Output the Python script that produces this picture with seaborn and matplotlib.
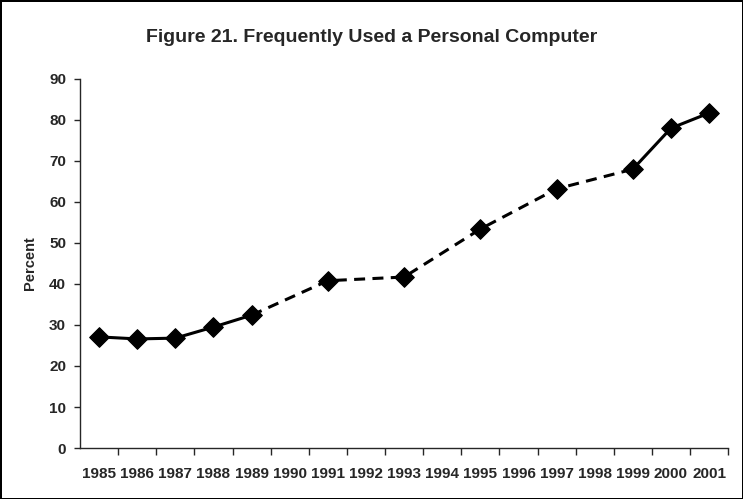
import numpy as np
import pandas as pd
import seaborn as sns
import matplotlib.pyplot as plt
from matplotlib.ticker import FixedLocator

# dati
anni_asse = list(range(1985, 2002))
anni = [1985, 1986, 1987, 1988, 1989, 1991, 1993, 1995, 1997, 1999, 2000, 2001]
percento = [27.1, 26.6, 26.8, 29.5, 32.4, 40.8, 41.7, 53.4, 63.2, 68.0, 78.0, 81.7]

sns.set_style("ticks")
plt.rcParams['font.family'] = ['Liberation Sans', 'DejaVu Sans']

data = pd.DataFrame({"anno": anni, "pct": percento})

# tratti continui dove gli anni sono consecutivi, tratteggiati dove mancano anni
tratto1 = data[data["anno"] <= 1989]
tratto2 = data[(data["anno"] >= 1989) & (data["anno"] <= 1999)]
tratto3 = data[data["anno"] >= 1999]

fig = plt.figure(figsize=(7.43, 4.99), dpi=100, edgecolor="black", linewidth=2)
ax = fig.add_axes([0.1077, 0.1022, 0.8723, 0.7395])

sns.lineplot(x="anno", y="pct", data=tratto1, color="black", linewidth=2.2, ax=ax)
sns.lineplot(x="anno", y="pct", data=tratto2, color="black", linewidth=2.2, ax=ax)
ax.lines[-1].set_dashes((3.6, 2.4))
sns.lineplot(x="anno", y="pct", data=tratto3, color="black", linewidth=2.2, ax=ax)
sns.scatterplot(x="anno", y="pct", data=data, marker="D", s=100, color="black",
                edgecolor="black", zorder=5, ax=ax)

ax.set_xlim(1984.5, 2001.5)
ax.set_ylim(0, 90)
ax.set_yticks(range(0, 91, 10))
ax.set_xticks(anni_asse)
ax.set_xticklabels([str(a) for a in anni_asse], fontsize=11, fontweight="bold")
ax.xaxis.set_minor_locator(FixedLocator(np.arange(1985.5, 2002, 1)))
ax.tick_params(axis="x", which="major", length=0, pad=14)
ax.tick_params(axis="x", which="minor", length=5, width=1, direction="out")
ax.tick_params(axis="y", length=4, width=1, labelsize=11, pad=6)
for lab in ax.get_yticklabels():
    lab.set_fontweight("bold")

sns.despine(ax=ax)
for s in ["left", "bottom"]:
    ax.spines[s].set_linewidth(1)

ax.set_xlabel("")
ax.set_ylabel("Percent", fontsize=10.5, fontweight="bold", labelpad=9)
fig.text(0.5, 0.924, "Figure 21. Frequently Used a Personal Computer",
         ha="center", va="center", fontsize=14, fontweight="bold")

plt.savefig("out.png", dpi=100)
